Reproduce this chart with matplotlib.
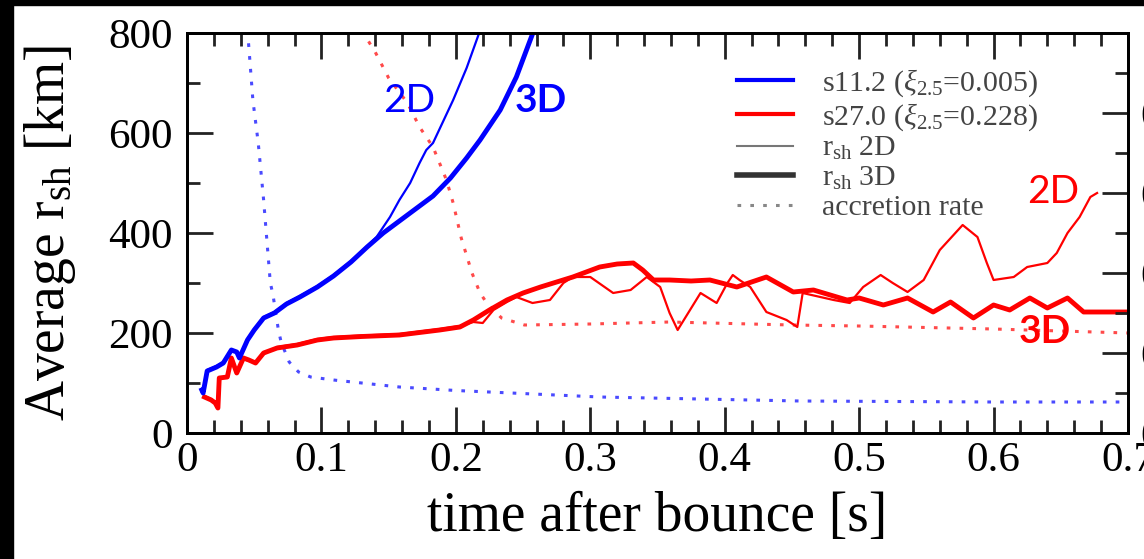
import matplotlib
matplotlib.use('Agg')
import matplotlib.pyplot as plt
from matplotlib.lines import Line2D
from matplotlib.patches import Rectangle
from matplotlib.ticker import MultipleLocator

plt.rcParams['font.family'] = ['Liberation Serif', 'DejaVu Serif']
plt.rcParams['mathtext.fontset'] = 'custom'
plt.rcParams['mathtext.rm'] = 'Liberation Serif'
plt.rcParams['mathtext.it'] = 'Liberation Serif:italic'
plt.rcParams['mathtext.bf'] = 'Liberation Serif:bold'

# ---- data (time [s], shock radius [km]) ----
# s11.2, 3D
t_s11_3d = [0.011, 0.012, 0.015, 0.022, 0.027, 0.033, 0.037, 0.039, 0.045, 0.050,
            0.057, 0.065, 0.074, 0.084, 0.097, 0.109, 0.122, 0.134, 0.146, 0.158,
            0.170, 0.183, 0.196, 0.208, 0.218, 0.233, 0.245, 0.258]
r_s11_3d = [86, 80, 124, 132, 140, 166, 162, 150, 186, 206,
            230, 240, 258, 272, 292, 314, 342, 372, 400, 424,
            448, 474, 510, 550, 586, 646, 712, 805]

# s11.2, 2D
t_s11_2d = [0.011, 0.012, 0.015, 0.022, 0.027, 0.033, 0.037, 0.039, 0.045, 0.050,
            0.057, 0.065, 0.074, 0.084, 0.097, 0.109, 0.122, 0.134, 0.141, 0.151,
            0.158, 0.166, 0.173, 0.178, 0.183, 0.198, 0.208, 0.218]
r_s11_2d = [88, 82, 126, 134, 142, 168, 160, 152, 188, 208,
            232, 242, 260, 274, 294, 316, 344, 374, 392, 432,
            466, 500, 540, 566, 580, 666, 730, 805]

# s27.0, 3D
t_s27_3d = [0.013, 0.018, 0.021, 0.023, 0.024, 0.030, 0.033, 0.037, 0.042, 0.046,
            0.051, 0.057, 0.067, 0.082, 0.097, 0.109, 0.130, 0.158, 0.188, 0.203,
            0.213, 0.225, 0.238, 0.250, 0.263, 0.275, 0.287, 0.307, 0.320, 0.332,
            0.339, 0.347, 0.359, 0.375, 0.389, 0.409, 0.431, 0.451, 0.466, 0.491,
            0.500, 0.518, 0.536, 0.555, 0.568, 0.585, 0.600, 0.612, 0.627, 0.640,
            0.655, 0.667, 0.689, 0.700]
r_s27_3d = [72, 66, 60, 50, 110, 112, 150, 120, 150, 146,
            140, 160, 170, 176, 186, 190, 193, 196, 206, 212,
            226, 246, 266, 280, 292, 302, 312, 332, 338, 340,
            326, 306, 306, 304, 306, 292, 312, 282, 286, 266,
            270, 256, 270, 242, 262, 230, 256, 246, 270, 250,
            270, 242, 242, 242]

# s27.0, 2D
t_s27_2d = [0.013, 0.018, 0.021, 0.023, 0.024, 0.030, 0.033, 0.037, 0.042, 0.046,
            0.051, 0.057, 0.067, 0.082, 0.097, 0.109, 0.130, 0.158, 0.188, 0.203,
            0.213, 0.220, 0.228, 0.238, 0.245, 0.257, 0.270, 0.280, 0.287, 0.300,
            0.317, 0.330, 0.342, 0.352, 0.359, 0.365, 0.382, 0.394, 0.402, 0.406,
            0.411, 0.419, 0.431, 0.446, 0.454, 0.458, 0.481, 0.493, 0.503, 0.516,
            0.525, 0.536, 0.548, 0.560, 0.577, 0.588, 0.595, 0.600, 0.615, 0.625,
            0.640, 0.647, 0.655, 0.664, 0.672, 0.677]
r_s27_2d = [74, 68, 62, 52, 108, 114, 148, 122, 148, 144,
            142, 158, 172, 178, 188, 192, 195, 198, 208, 214,
            222, 220, 246, 262, 272, 260, 266, 300, 312, 312,
            280, 286, 312, 292, 240, 206, 280, 260, 300, 316,
            306, 292, 242, 226, 212, 280, 266, 260, 292, 316,
            300, 282, 306, 366, 416, 392, 340, 306, 312, 332,
            340, 360, 400, 432, 472, 480]

# accretion rate (scaled onto the same axis)
t_acc_s11 = [0.045, 0.046, 0.049, 0.053, 0.057, 0.060, 0.062, 0.064, 0.066, 0.068,
             0.070, 0.073, 0.076, 0.083, 0.092, 0.109, 0.158, 0.200, 0.307, 0.456,
             0.600, 0.700]
acc_s11 = [805, 772, 666, 580, 466, 366, 300, 276, 240, 206,
           182, 162, 142, 122, 112, 106, 92, 85, 72, 64,
           62, 62]

t_acc_s27 = [0.130, 0.140, 0.150, 0.164, 0.173, 0.183, 0.193, 0.198, 0.204, 0.212,
             0.218, 0.223, 0.234, 0.251, 0.300, 0.359, 0.450, 0.500, 0.600, 0.700]
acc_s27 = [805, 762, 710, 660, 612, 572, 506, 460, 390, 320,
           280, 260, 230, 216, 218, 222, 216, 214, 208, 200]

x_ticks = [0, 0.1, 0.2, 0.3, 0.4, 0.5, 0.6, 0.7]
x_tick_labels = ['0', '0.1', '0.2', '0.3', '0.4', '0.5', '0.6', '0.7']
y_ticks = [0, 200, 400, 600, 800]
y_tick_labels = ['0', '200', '400', '600', '800']
right_ticks = [0, 2, 4, 6, 8]
right_tick_labels = ['0', '0.2', '0.4', '0.6', '0.8']

legend_labels = [r's11.2 ($\xi_{2.5}$=0.005)', r's27.0 ($\xi_{2.5}$=0.228)',
                 r'r$_{\rm sh}$ 2D', r'r$_{\rm sh}$ 3D', 'accretion rate']

blue = '#0000ff'
red = '#ff0000'

fig = plt.figure(figsize=(11.44, 5.59), dpi=100)
ax = fig.add_axes([187 / 1144, 126 / 559, 941 / 1144, 400 / 559])

dots = (0, (1.2, 3))
ax.plot(t_acc_s11, acc_s11, color='#4a4aff', lw=2.2, ls=dots)
ax.plot(t_acc_s27, acc_s27, color='#ff4a4a', lw=2.2, ls=dots)
ax.plot(t_s27_2d, r_s27_2d, color=red, lw=1.6)
ax.plot(t_s27_3d, r_s27_3d, color=red, lw=3.5)
ax.plot(t_s11_2d, r_s11_2d, color=blue, lw=1.6)
ax.plot(t_s11_3d, r_s11_3d, color=blue, lw=3.5)

ax.set_xlim(0, 0.7)
ax.set_ylim(0, 800)
ax.set_xticks(x_ticks, x_tick_labels)
ax.set_yticks(y_ticks, y_tick_labels)
ax.xaxis.set_minor_locator(MultipleLocator(0.02))
ax.yaxis.set_minor_locator(MultipleLocator(100))
ax.tick_params(which='both', direction='in', top=True, right=False, width=2,
               color='#222222', labelsize=31)
ax.tick_params(which='major', length=19)
ax.tick_params(which='minor', length=9.5)
ax.tick_params(axis='x', pad=6)
ax.tick_params(axis='y', pad=10)
for s in ax.spines.values():
    s.set_linewidth(2)

ax2 = ax.twinx()
ax2.set_ylim(0, 10)
ax2.set_yticks(right_ticks, right_tick_labels)
ax2.yaxis.set_minor_locator(MultipleLocator(1))
ax2.tick_params(which='both', direction='in', width=2, color='#222222',
                labelsize=31, pad=8.8)
ax2.tick_params(which='major', length=19)
ax2.tick_params(which='minor', length=9.5)
for s in ax2.spines.values():
    s.set_linewidth(2)

ax.set_xlabel('time after bounce [s]', fontsize=40)
ax.xaxis.set_label_coords(0.5, -0.145)
ax.set_ylabel(r'Average r$_{\rm sh}$ [km]', fontsize=40)
ax.yaxis.set_label_coords(-0.116, 0.5)

handles = [Line2D([], [], color=blue, lw=3),
           Line2D([], [], color=red, lw=3),
           Line2D([], [], color='#777777', lw=1.5),
           Line2D([], [], color='#333333', lw=4),
           Line2D([], [], color='#888888', lw=2.2, ls=dots)]
leg = ax2.legend(handles, legend_labels, loc='upper left',
                 bbox_to_anchor=(0.585, 0.915), frameon=False, fontsize=21.5,
                 handlelength=1.87, handletextpad=0.97, labelspacing=0.08,
                 borderpad=0, borderaxespad=0)
for txt in leg.get_texts():
    txt.set_color('#444444')

ax.text(0.165, 642, '2D', color=blue, fontsize=28, family='Lato',
        ha='center', va='baseline')
ax.text(0.263, 642, '3D', color=blue, fontsize=28, family='Lato',
        weight='bold', ha='center', va='baseline')
ax.text(0.644, 460, '2D', color=red, fontsize=28, family='Lato',
        ha='center', va='baseline')
ax.text(0.638, 180, '3D', color=red, fontsize=28, family='Lato',
        weight='bold', ha='center', va='baseline')

# black borders of the screenshot
fig.patches.append(Rectangle((0, 1 - 5 / 559), 1, 5 / 559,
                             transform=fig.transFigure, color='black'))
fig.patches.append(Rectangle((0, 0), 13 / 1144, 1,
                             transform=fig.transFigure, color='black'))

fig.savefig('out.png', dpi=100)
